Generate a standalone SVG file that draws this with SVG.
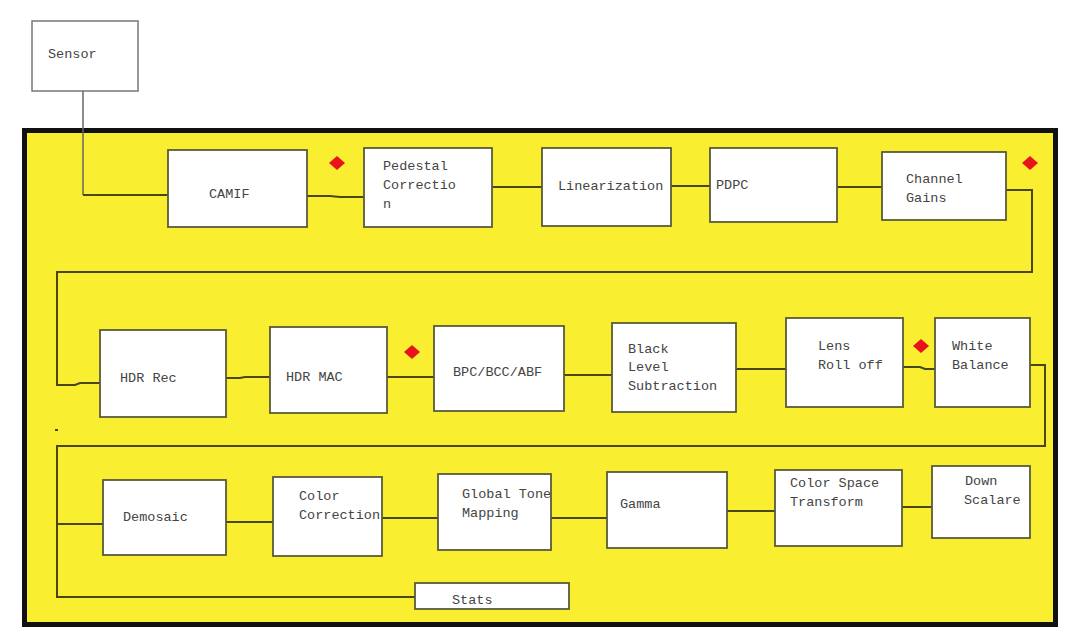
<svg xmlns="http://www.w3.org/2000/svg" xmlns:xlink="http://www.w3.org/1999/xlink" width="1080" height="643" viewBox="0 0 1080 643">
<style>
.box{fill:#fff;stroke:#5a5a3a;stroke-width:1.8}
.sbox{fill:#fff;stroke:#777;stroke-width:1.5}
.t{font-family:"Liberation Mono","DejaVu Sans Mono",monospace;font-size:13.5px;fill:#444}
.c{fill:none;stroke:#4a4710;stroke-width:2}
.cs{fill:none;stroke:#666;stroke-width:1.5}
</style>
<defs>
<polygon id="dia" points="0,-7 8,0 0,7 -8,0" fill="#e8141c"/>
</defs>
<rect width="1080" height="643" fill="#fff"/>
<rect id="frame" x="24.5" y="130.5" width="1031" height="494" fill="#f9ee2f" stroke="#111" stroke-width="5"/>
<g id="connectors">
<path class="cs" d="M83,91 V195"/>
<path class="c" d="M83,195 H168"/>
<path class="c" d="M307,196 H330 L340,197 H364"/>
<path class="c" d="M492,187 H542"/>
<path class="c" d="M671,186 H710"/>
<path class="c" d="M837,187 H882"/>
<path class="c" d="M1006,190 H1032 V272 H57 V385 H75 L80,383 H100"/>
<path class="c" d="M226,378 H240 L245,377 H270"/>
<path class="c" d="M387,377 H434"/>
<path class="c" d="M564,375 H612"/>
<path class="c" d="M736,369 H786"/>
<path class="c" d="M903,367 H920 L925,369 H935"/>
<path class="c" d="M1030,365 H1045 V446 H57 V597 H415"/>
<path class="c" d="M55,430 H58"/>
<path class="c" d="M57,524 H103"/>
<path class="c" d="M226,522 H273"/>
<path class="c" d="M382,518 H438"/>
<path class="c" d="M551,518 H607"/>
<path class="c" d="M727,511 H775"/>
<path class="c" d="M902,507 H932"/>
</g>
<g id="markers">
<use xlink:href="#dia" x="337" y="163"/>
<use xlink:href="#dia" x="1030" y="163"/>
<use xlink:href="#dia" x="412" y="352"/>
<use xlink:href="#dia" x="921" y="346"/>
</g>
<g id="sensor"><rect class="sbox" x="32" y="21" width="106" height="70"/><text class="t" x="48" y="58">Sensor</text></g>
<g id="camif"><rect class="box" x="168" y="150" width="139" height="77"/><text class="t" x="209" y="198">CAMIF</text></g>
<g id="pedestal"><rect class="box" x="364" y="148" width="128" height="79"/><text class="t" x="383" y="170">Pedestal</text><text class="t" x="383" y="189">Correctio</text><text class="t" x="383" y="208">n</text></g>
<g id="linearization"><rect class="box" x="542" y="148" width="129" height="78"/><text class="t" x="558" y="190">Linearization</text></g>
<g id="pdpc"><rect class="box" x="710" y="148" width="127" height="74"/><text class="t" x="716" y="189">PDPC</text></g>
<g id="channel-gains"><rect class="box" x="882" y="152" width="124" height="68"/><text class="t" x="906" y="183">Channel</text><text class="t" x="906" y="202">Gains</text></g>
<g id="hdr-rec"><rect class="box" x="100" y="330" width="126" height="87"/><text class="t" x="120" y="382">HDR Rec</text></g>
<g id="hdr-mac"><rect class="box" x="270" y="327" width="117" height="86"/><text class="t" x="286" y="381">HDR MAC</text></g>
<g id="bpc"><rect class="box" x="434" y="326" width="130" height="85"/><text class="t" x="453" y="376">BPC/BCC/ABF</text></g>
<g id="black-level"><rect class="box" x="612" y="323" width="124" height="89"/><text class="t" x="628" y="353">Black</text><text class="t" x="628" y="371">Level</text><text class="t" x="628" y="390">Subtraction</text></g>
<g id="lens-rolloff"><rect class="box" x="786" y="318" width="117" height="89"/><text class="t" x="818" y="350">Lens</text><text class="t" x="818" y="369">Roll off</text></g>
<g id="white-balance"><rect class="box" x="935" y="318" width="95" height="89"/><text class="t" x="952" y="350">White</text><text class="t" x="952" y="369">Balance</text></g>
<g id="demosaic"><rect class="box" x="103" y="480" width="123" height="75"/><text class="t" x="123" y="521">Demosaic</text></g>
<g id="color-correction"><rect class="box" x="273" y="477" width="109" height="79"/><text class="t" x="299" y="500">Color</text><text class="t" x="299" y="519">Correction</text></g>
<g id="gtm"><rect class="box" x="438" y="474" width="113" height="76"/><text class="t" x="462" y="498">Global Tone</text><text class="t" x="462" y="517">Mapping</text></g>
<g id="gamma"><rect class="box" x="607" y="472" width="120" height="76"/><text class="t" x="620" y="508">Gamma</text></g>
<g id="cst"><rect class="box" x="775" y="470" width="127" height="76"/><text class="t" x="790" y="487">Color Space</text><text class="t" x="790" y="506">Transform</text></g>
<g id="down-scalare"><rect class="box" x="932" y="466" width="98" height="72"/><text class="t" x="965" y="485">Down</text><text class="t" x="964" y="504">Scalare</text></g>
<g id="stats"><rect class="box" x="415" y="583" width="154" height="26"/><text class="t" x="452" y="604">Stats</text></g>
</svg>
